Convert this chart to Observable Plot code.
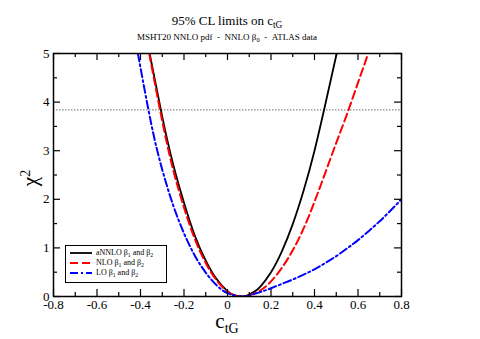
<!DOCTYPE html>
<html>
<head>
<meta charset="utf-8">
<script src="https://cdn.jsdelivr.net/npm/d3@7"></script>
<script src="https://cdn.jsdelivr.net/npm/@observablehq/plot@0.6"></script>
<style>
  html, body { margin: 0; padding: 0; background: #fff; }
  #wrap { position: relative; width: 480px; height: 339px; font-family: "Liberation Serif", "Times New Roman", serif; color: #000; }
  #wrap > svg { position: absolute; left: 0; top: 0; }
  .abs { position: absolute; white-space: nowrap; }
  sub { font-size: 0.72em; vertical-align: -0.35em; line-height: 0; }
  sup { font-size: 0.72em; vertical-align: 0.5em; line-height: 0; }
  #legend { position: absolute; left: 65px; top: 245px; width: 102px; height: 38px; border: 1px solid #000; background: #fff; box-sizing: border-box; }
  .lrow { position: absolute; left: 4px; height: 10px; font-size: 8px; line-height: 10px; }
  .lrow svg { vertical-align: middle; }
</style>
</head>
<body>
<div id="wrap">
  <div class="abs" id="title" style="left:0;width:454px;text-align:center;top:13px;font-size:13px;line-height:16px;">95% CL limits on c<sub>tG</sub></div>
  <div class="abs" id="subtitle" style="left:0;width:454px;text-align:center;top:32px;font-size:9px;line-height:11px;">MSHT20 NNLO pdf &nbsp;- &nbsp;NNLO β<sub>0</sub> &nbsp;- &nbsp;ATLAS data</div>
  <div class="abs" id="xlabel" style="left:0;width:454px;text-align:center;top:310px;font-size:21px;line-height:22px;">c<sub style="font-size:14px;">tG</sub></div>
  <div class="abs" id="ylabel" style="left:30px;top:178px;font-size:21px;line-height:22px;transform:translate(-50%,-50%) rotate(-90deg);">χ<sup style="font-size:14px;">2</sup></div>
</div>
<script>
// ---- data ----
const xMajor = [-0.8, -0.6, -0.4, -0.2, 0, 0.2, 0.4, 0.6, 0.8];
const xMinor = [-0.7, -0.5, -0.3, -0.1, 0.1, 0.3, 0.5, 0.7];
const yMajor = [0, 1, 2, 3, 4, 5];
const yMinor = [0.5, 1.5, 2.5, 3.5, 4.5];
const cl95 = [3.84];

const seriesNames = ["aNNLO", "NLO", "LO"];

const cANNLO = [-0.358, -0.30, -0.25, -0.20, -0.15, -0.10, -0.05, 0.0, 0.03, 0.062, 0.09, 0.12, 0.15, 0.20, 0.25, 0.30, 0.35, 0.40, 0.45, 0.502];
const chiANNLO = [5.0, 3.70, 2.72, 1.93, 1.25, 0.74, 0.36, 0.11, 0.03, 0.0, 0.02, 0.09, 0.20, 0.50, 0.93, 1.49, 2.18, 3.0, 3.96, 5.0];

const cNLO = [-0.36, -0.30, -0.25, -0.20, -0.15, -0.10, -0.05, 0.0, 0.03, 0.065, 0.10, 0.15, 0.20, 0.25, 0.30, 0.35, 0.40, 0.45, 0.50, 0.55, 0.60, 0.647];
const chiNLO = [5.0, 3.61, 2.61, 1.83, 1.18, 0.69, 0.33, 0.10, 0.03, 0.0, 0.025, 0.12, 0.31, 0.59, 0.95, 1.40, 1.95, 2.55, 3.16, 3.76, 4.40, 5.0];

const cLO = [-0.412, -0.35, -0.30, -0.25, -0.20, -0.15, -0.10, -0.05, 0.0, 0.06, 0.10, 0.15, 0.20, 0.25, 0.30, 0.35, 0.40, 0.45, 0.50, 0.55, 0.60, 0.65, 0.70, 0.75, 0.80];
const chiLO = [5.0, 3.54, 2.61, 1.88, 1.30, 0.84, 0.49, 0.23, 0.07, 0.0, 0.025, 0.09, 0.17, 0.26, 0.35, 0.45, 0.56, 0.69, 0.83, 0.99, 1.16, 1.35, 1.55, 1.77, 2.0];

const legendLabels = [["aNNLO β", "1", " and β", "2"], ["NLO β", "1", " and β", "2"], ["LO β", "1", " and β", "2"]];

// ---- build tables ----
const toRows = (cs, ys) => cs.map((c, i) => ({c, chi: ys[i]}));
const dA = toRows(cANNLO, chiANNLO);
const dN = toRows(cNLO, chiNLO);
const dL = toRows(cLO, chiLO);

const W = 480, H = 339, ML = 53, MR = 79, MT = 53, MB = 43;
const FW = W - ML - MR, FH = H - MT - MB;
const majorLen = 7, minorLen = 4;
const fmt = d => d === 0 ? "0" : (d < 0 ? "-" : "") + Math.abs(d).toFixed(1);

const styles = [
  {stroke: "#000000", strokeWidth: 1.8, dash: null},
  {stroke: "#ff0000", strokeWidth: 2, dash: "8,4"},
  {stroke: "#0000ff", strokeWidth: 2, dash: "8,3,2,3"}
];

const chart = Plot.plot({
  width: W, height: H,
  marginLeft: ML, marginRight: MR, marginTop: MT, marginBottom: MB,
  x: {domain: [-0.8, 0.8]},
  y: {domain: [0, 5]},
  style: {fontFamily: "'Liberation Serif', 'Times New Roman', serif", fontSize: "13px", background: "transparent", color: "#000"},
  marks: [
    Plot.ruleY(cl95, {y: d => d, stroke: "#8c8c8c", strokeWidth: 1.2, strokeDasharray: "1.5,1.5"}),
    Plot.line(dA, {x: "c", y: "chi", curve: "natural", stroke: styles[0].stroke, strokeWidth: styles[0].strokeWidth, clip: "frame"}),
    Plot.line(dN, {x: "c", y: "chi", curve: "natural", stroke: styles[1].stroke, strokeWidth: styles[1].strokeWidth, strokeDasharray: styles[1].dash, clip: "frame"}),
    Plot.line(dL, {x: "c", y: "chi", curve: "natural", stroke: styles[2].stroke, strokeWidth: styles[2].strokeWidth, strokeDasharray: styles[2].dash, clip: "frame"}),
    // inward ticks
    Plot.tickX(xMajor, {x: d => d, insetTop: FH - majorLen, stroke: "#000", strokeWidth: 1.2}),
    Plot.tickX(xMinor, {x: d => d, insetTop: FH - minorLen, stroke: "#000", strokeWidth: 1.2}),
    Plot.tickX(xMajor, {x: d => d, insetBottom: FH - majorLen, stroke: "#000", strokeWidth: 1.2}),
    Plot.tickX(xMinor, {x: d => d, insetBottom: FH - minorLen, stroke: "#000", strokeWidth: 1.2}),
    Plot.tickY(yMajor, {y: d => d, insetRight: FW - majorLen, stroke: "#000", strokeWidth: 1.2}),
    Plot.tickY(yMinor, {y: d => d, insetRight: FW - minorLen, stroke: "#000", strokeWidth: 1.2}),
    Plot.tickY(yMajor, {y: d => d, insetLeft: FW - majorLen, stroke: "#000", strokeWidth: 1.2}),
    Plot.tickY(yMinor, {y: d => d, insetLeft: FW - minorLen, stroke: "#000", strokeWidth: 1.2}),
    Plot.frame({stroke: "#000", strokeWidth: 1.5}),
    Plot.axisX({ticks: xMajor, tickSize: 0, tickPadding: 3, tickFormat: fmt, label: null, fontSize: 13}),
    Plot.axisY({ticks: yMajor, tickSize: 0, tickPadding: 4, tickFormat: d => String(d), label: null, fontSize: 13})
  ]
});
const wrap = document.getElementById("wrap");
wrap.insertBefore(chart, wrap.firstChild);

// legend (HTML overlay)
const legend = document.createElement("div");
legend.id = "legend";
seriesNames.forEach((name, i) => {
  const row = document.createElement("div");
  row.className = "lrow";
  row.style.top = (2 + i * 10) + "px";
  const s = styles[i];
  const lab = legendLabels[i];
  row.innerHTML = `<svg width="22" height="6"><line x1="0" y1="3" x2="22" y2="3" stroke="${s.stroke}" stroke-width="${s.strokeWidth}" ${s.dash ? `stroke-dasharray="${s.dash}"` : ""}/></svg>&nbsp;&nbsp;${lab[0]}<sub>${lab[1]}</sub>${lab[2]}<sub>${lab[3]}</sub>`;
  legend.appendChild(row);
});
wrap.appendChild(legend);
</script>
</body>
</html>
